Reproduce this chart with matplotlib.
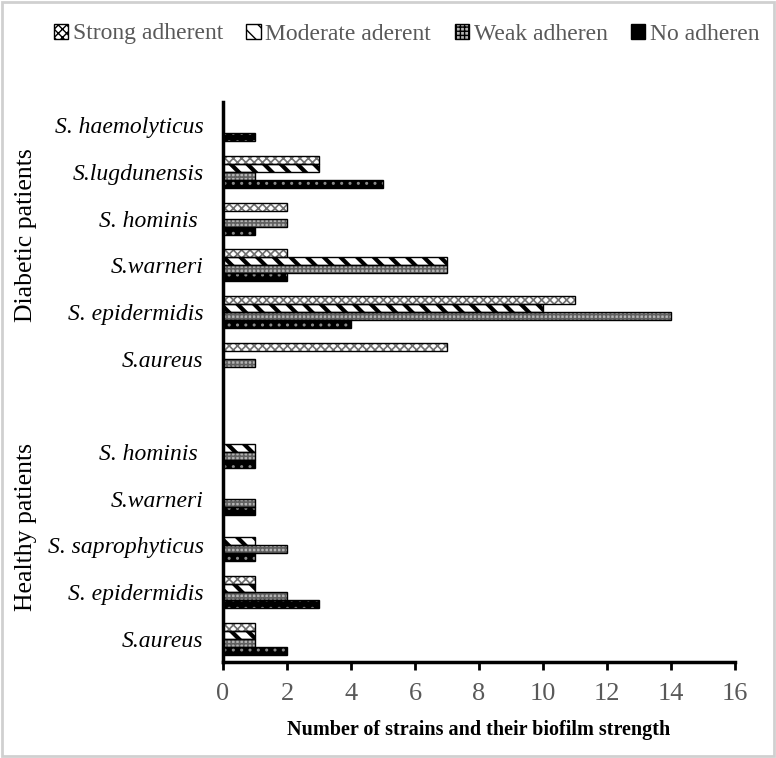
#Script for a horizontal bar chart of biofilm strength per species and patient group
#Import useful libraries
import numpy as np
import matplotlib
matplotlib.use('Agg')
import matplotlib.pyplot as plt
from matplotlib.patches import Patch, Rectangle

#category labels, bottom to top (healthy first, then an empty slot, then diabetic)
healthy_species = ['S.aureus', 'S. epidermidis', 'S. saprophyticus', 'S.warneri', 'S. hominis ']
diabetic_species = ['S.aureus', 'S. epidermidis', 'S.warneri', 'S. hominis ', 'S.lugdunensis', 'S. haemolyticus']

series_names = ['Strong adherent', 'Moderate aderent', 'Weak adheren', 'No adheren']

#values in the same order as the species lists
healthy_strong = [1, 1, 0, 0, 0]
healthy_moderate = [1, 1, 1, 0, 1]
healthy_weak = [1, 2, 2, 1, 1]
healthy_no = [2, 3, 1, 1, 1]

diabetic_strong = [7, 11, 2, 2, 3, 0]
diabetic_moderate = [0, 10, 7, 0, 3, 0]
diabetic_weak = [1, 14, 7, 2, 1, 0]
diabetic_no = [0, 4, 2, 1, 5, 1]

x_ticks = [0, 2, 4, 6, 8, 10, 12, 14, 16]

#styles for each series: face colour, hatch, hatch colour, hatch line width
styles = [('white', 'xxxx', '#707070', 1.2),
          ('white', '\\\\', 'black', 3.0),
          ('#b4b4b4', '++++', '#606060', 1.2),
          ('black', '..', '#8a8a8a', 1.0)]

plt.rcParams['font.family'] = ['Liberation Serif', 'DejaVu Serif']


def main():
	labels = healthy_species + [''] + diabetic_species
	ypos = np.arange(len(labels))
	series = [healthy_strong + [0] + diabetic_strong,
	          healthy_moderate + [0] + diabetic_moderate,
	          healthy_weak + [0] + diabetic_weak,
	          healthy_no + [0] + diabetic_no]

	fig = plt.figure(figsize=(7.76, 7.58), dpi=100)
	ax = fig.add_axes([0.2874, 0.1266, 0.6598, 0.7388])

	bar_h = 0.17
	offsets = [1.5 * bar_h, 0.5 * bar_h, -0.5 * bar_h, -1.5 * bar_h]

	#draw each series: hatch layer first, then a black outline
	for vals, off, (face, hatch, hcol, hlw) in zip(series, offsets, styles):
		vals = np.array(vals, dtype=float)
		mask = vals > 0
		with plt.rc_context({'hatch.linewidth': hlw}):
			bars = ax.barh(ypos[mask] + off, vals[mask], height=bar_h, color=face,
			               hatch=hatch, edgecolor=hcol, linewidth=0, zorder=2)
			for b in bars:
				if hasattr(b, 'set_hatch_linewidth'):
					b.set_hatch_linewidth(hlw)
		ax.barh(ypos[mask] + off, vals[mask], height=bar_h, fill=False,
		        edgecolor='black', linewidth=1.0, zorder=3)

	ax.set_ylim(-0.5, len(labels) - 0.5)
	ax.set_xlim(0, 16)
	ax.set_xticks(x_ticks)
	ax.set_xticklabels([str(t) for t in x_ticks], fontsize=19, color='#595959')
	ax.set_yticks(ypos)
	ax.set_yticklabels(labels, fontsize=17, style='italic')
	ax.tick_params(axis='y', length=0, pad=14)
	ax.tick_params(axis='x', direction='out', length=6, width=2, pad=9)

	for side in ['top', 'right']:
		ax.spines[side].set_visible(False)
	ax.spines['left'].set_linewidth(2.5)
	ax.spines['bottom'].set_linewidth(2.5)

	ax.set_xlabel('Number of strains and their biofilm strength', fontsize=14.5,
	              fontweight='bold', labelpad=11)

	#group labels on the left
	fig.text(0.034, 1 - 235 / 758, 'Diabetic patients', rotation=90, fontsize=18.5,
	         ha='center', va='center')
	fig.text(0.034, 1 - 527 / 758, 'Healthy patients', rotation=90, fontsize=18.5,
	         ha='center', va='center')

	#legend along the top
	handles = [Patch(facecolor=f, hatch=h, edgecolor='black', linewidth=1.0)
	           for f, h, c, w in styles]
	fig.legend(handles, series_names, loc='center', ncol=4, frameon=False,
	           bbox_to_anchor=(0.524, 1 - 34 / 758), fontsize=17,
	           handlelength=0.6, handleheight=0.6, handletextpad=0.2,
	           columnspacing=1.0, labelcolor='#595959')

	#light grey border around the picture
	fig.patches.append(Rectangle((0.002, 0.002), 0.996, 0.996, transform=fig.transFigure,
	                             fill=False, edgecolor='#d0d0d0', linewidth=2))

	fig.savefig('out.png', dpi=100)


main()
